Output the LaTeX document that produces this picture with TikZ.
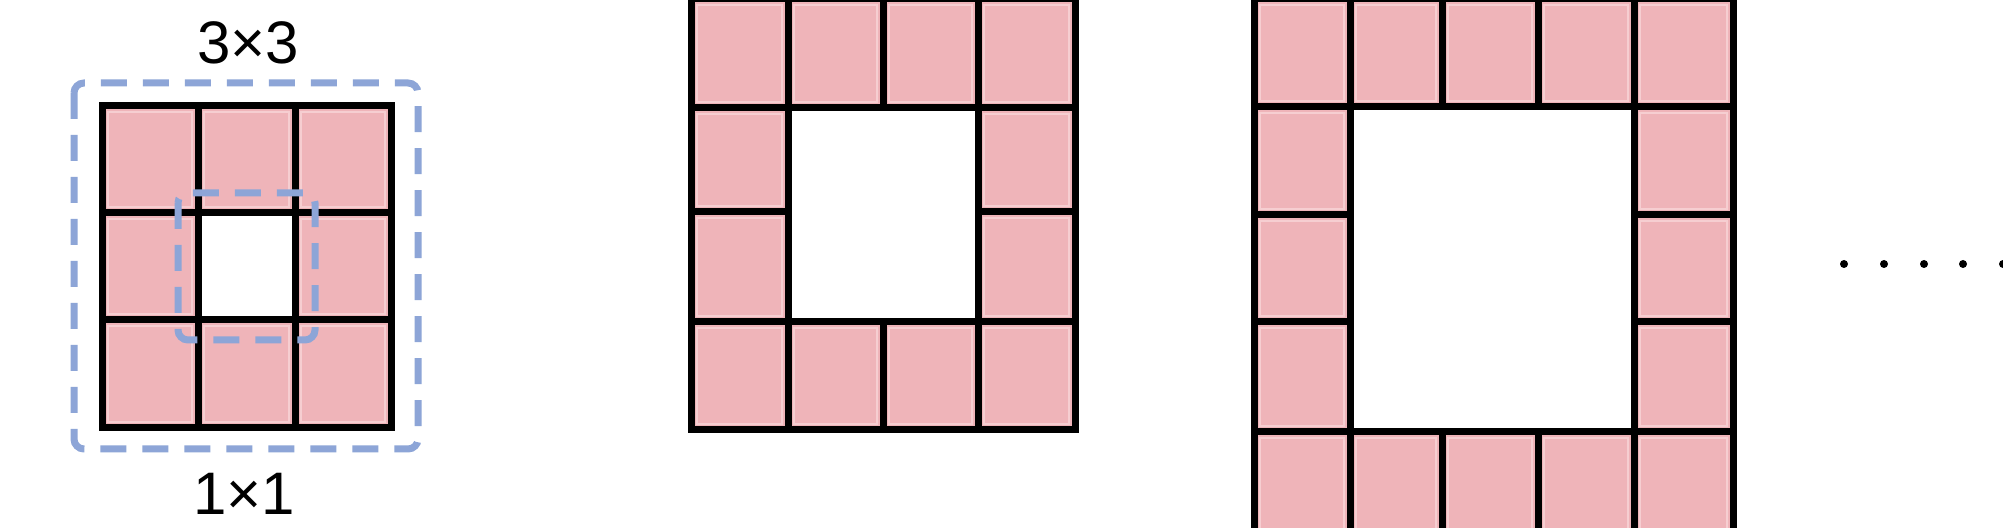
\documentclass[tikz,border=0pt]{standalone}
\usepackage{fontspec}
\setmainfont{Liberation Sans}
\definecolor{tilepink}{RGB}{239,180,185}
\definecolor{tilehi}{RGB}{246,206,209}
\definecolor{dashblue}{RGB}{141,165,215}
\begin{document}
\begin{tikzpicture}[x=0.5pt,y=-0.5pt,
  tile/.style={fill=tilepink},
  tileedge/.style={draw=tilehi,line width=0.8pt},
  gridline/.style={draw=black,line width=3.5pt},
  dashbox/.style={draw=dashblue,line width=3.5pt,dash pattern=on 13pt off 8pt,rounded corners=5pt},
  dotstyle/.style={circle,fill=black,inner sep=0pt,minimum size=4pt},
  label/.style={font=\fontsize{30}{36}\selectfont,inner sep=0pt}]
\useasboundingbox (0,0) rectangle (2003,528);
\clip (0,0) rectangle (2003,528);
\fill[white] (0,0) rectangle (2003,528);

% ---------- tiles ----------
\foreach \a/\b/\c/\d in {
  102/106/198/213, 198/106/295/213, 295/106/391/213,
  102/213/198/320, 295/213/391/320,
  102/320/198/428, 198/320/295/428, 295/320/391/428,
  691/-1/788/108, 788/-1/883/108, 883/-1/978/108, 978/-1/1075/108,
  691/108/788/212, 978/108/1075/212,
  691/212/788/322, 978/212/1075/322,
  691/322/788/430, 788/322/883/430, 883/322/978/430, 978/322/1075/430,
  1254/-1/1350/107, 1350/-1/1442/107, 1442/-1/1538/107, 1538/-1/1634/107, 1634/-1/1733/107,
  1254/107/1350/215, 1634/107/1733/215,
  1254/215/1350/322, 1634/215/1733/322,
  1254/322/1350/432, 1634/322/1733/432,
  1254/432/1350/540, 1350/432/1442/540, 1442/432/1538/540, 1538/432/1634/540, 1634/432/1733/540}
{
  \fill[tile] (\a,\b) rectangle (\c,\d);
  \draw[tileedge] (\a+6,\b+6) rectangle (\c-6,\d-6);
}

% ---------- grid 1 lines ----------
\draw[gridline] (102,106) rectangle (391,428);
\draw[gridline] (198,106) -- (198,428) (295,106) -- (295,428)
                (102,213) -- (391,213) (102,320) -- (391,320);

% ---------- grid 2 lines ----------
\draw[gridline] (691,-1) rectangle (1075,430);
\draw[gridline] (691,108) -- (1075,108) (691,322) -- (1075,322)
                (691,212) -- (788,212) (978,212) -- (1075,212)
                (788,-1) -- (788,430) (978,-1) -- (978,430)
                (883,-1) -- (883,108) (883,322) -- (883,430);

% ---------- grid 3 lines ----------
\draw[gridline] (1254,-1) rectangle (1733,540);
\draw[gridline] (1254,107) -- (1733,107) (1254,432) -- (1733,432)
                (1254,215) -- (1350,215) (1634,215) -- (1733,215)
                (1254,322) -- (1350,322) (1634,322) -- (1733,322)
                (1350,-1) -- (1350,540) (1634,-1) -- (1634,540)
                (1442,-1) -- (1442,107) (1538,-1) -- (1538,107)
                (1442,432) -- (1442,540) (1538,432) -- (1538,540);

% ---------- dashed receptive-field boxes ----------
\draw[dashbox] (74,83) rectangle (418,449);
\draw[dashbox] (178,193) rectangle (315,340);

% ---------- labels ----------
\node[label] (lab3) at (248,43) {3×3};
\node[label] (lab1) at (244,494) {1×1};

% ---------- ellipsis dots ----------
\node[dotstyle] (d1) at (1844,264) {};
\node[dotstyle] (d2) at (1884,264) {};
\node[dotstyle] (d3) at (1924,264) {};
\node[dotstyle] (d4) at (1963,264) {};
\node[dotstyle] (d5) at (2003,264) {};
\end{tikzpicture}
\end{document}
